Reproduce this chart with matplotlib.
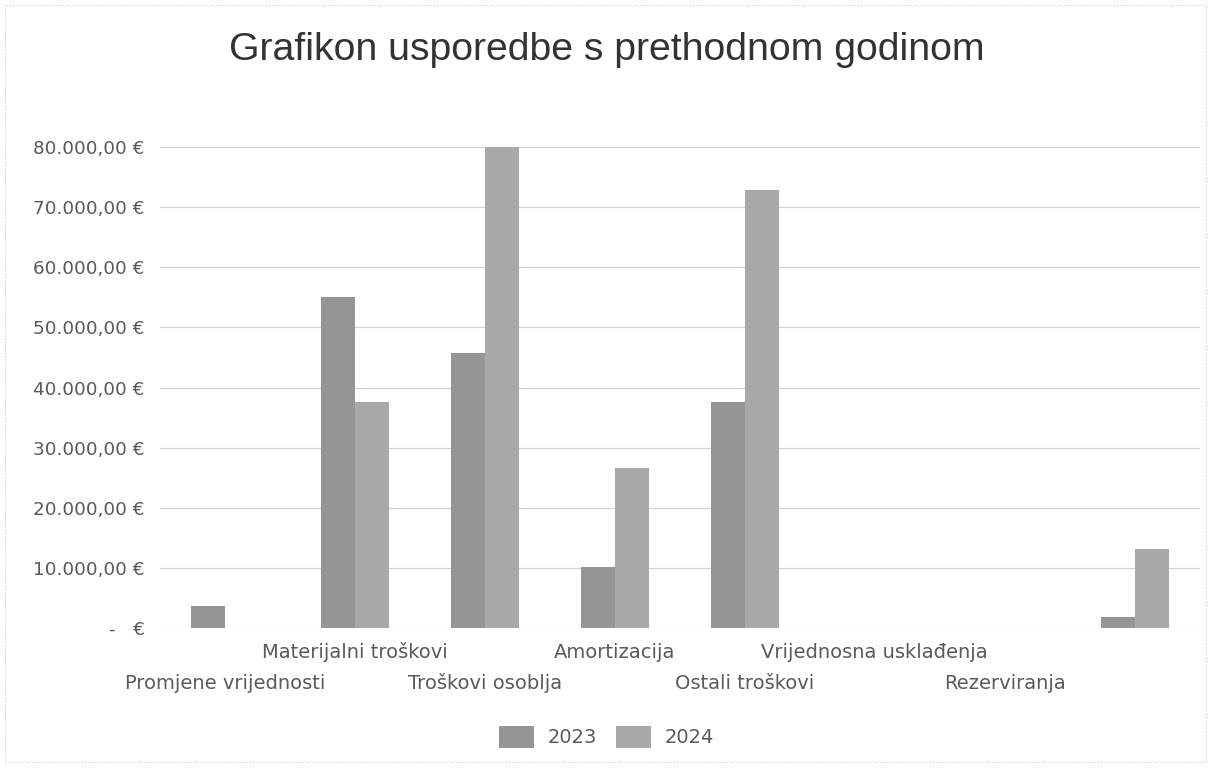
import matplotlib.pyplot as plt
from matplotlib.patches import Rectangle
from matplotlib.ticker import FuncFormatter, MultipleLocator
import numpy as np

# data
categories = ['Promjene vrijednosti', 'Materijalni troškovi', 'Troškovi osoblja',
              'Amortizacija', 'Ostali troškovi', 'Vrijednosna usklađenja',
              'Rezerviranja', '']
years = ['2023', '2024']
values_2023 = [3600, 55000, 45700, 10100, 37600, 0, 0, 1900]
values_2024 = [0, 37600, 80000, 26700, 72800, 0, 0, 13100]
colors = ['#959595', '#a9a9a9']


def euro(v, pos):
    if v == 0:
        return '-   €'
    s = f'{v:,.2f}'.replace(',', 'X').replace('.', ',').replace('X', '.')
    return s + ' €'


fig = plt.figure(figsize=(12.13, 7.74), dpi=100)
ax = fig.add_axes([0.132, 0.1886, 0.857, 0.6214])

x = np.arange(len(categories))
w = 0.262
ax.bar(x - w / 2, values_2023, w, color=colors[0], label=years[0], zorder=3)
ax.bar(x + w / 2, values_2024, w, color=colors[1], label=years[1], zorder=3)

ax.set_xlim(-0.5, len(categories) - 0.5)
ax.set_ylim(0, 80000)
ax.yaxis.set_major_locator(MultipleLocator(10000))
ax.yaxis.set_major_formatter(FuncFormatter(euro))
ax.tick_params(axis='y', length=0, pad=11, labelsize=13.2, labelcolor='#5a5a5a')
ax.tick_params(axis='x', length=0)
ax.set_xticks([])
ax.grid(axis='y', color='#cfd3da', lw=0.9, zorder=0)
for s in ax.spines.values():
    s.set_visible(False)

# staggered category labels
for i, name in enumerate(categories):
    yoff = -0.05 if i % 2 == 1 else -0.115
    ax.text(i, yoff, name, transform=ax.get_xaxis_transform(), ha='center',
            va='center', fontsize=14, color='#5a5a5a')

fig.text(0.5, 0.935, 'Grafikon usporedbe s prethodnom godinom', ha='center',
         va='center', fontsize=28.3, family='Liberation Sans', color='#333333')

fig.legend(loc='center', bbox_to_anchor=(0.5, 0.048), ncol=2, frameon=False,
           fontsize=14, handlelength=1.8, handleheight=1.4, columnspacing=1.0,
           handletextpad=0.7, labelcolor='#5a5a5a')

fig.patches.append(Rectangle((0.004, 0.015), 0.99, 0.978, transform=fig.transFigure,
                             fill=False, ec='#c8c8c8', lw=0.8, ls=':'))

fig.savefig('out.png', dpi=100, facecolor='white')
